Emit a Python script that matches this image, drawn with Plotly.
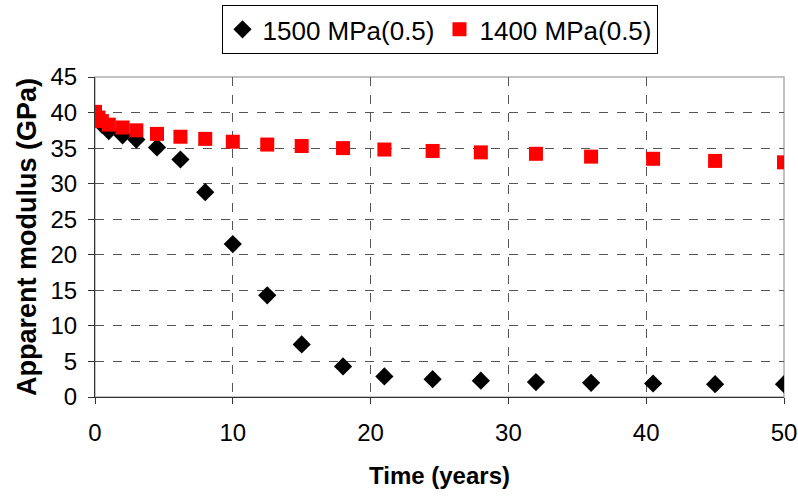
import plotly.graph_objects as go

time_1500 = [0, 0.5, 1, 2, 3, 4.5, 6.2, 8, 10, 12.5, 15, 18, 21, 24.5, 28, 32, 36, 40.5, 45, 50]
mod_1500 = [39.5, 38.3, 37.4, 36.8, 36.2, 35.1, 33.4, 28.8, 21.5, 14.3, 7.4, 4.3, 2.9, 2.5, 2.3, 2.1, 2.0, 1.9, 1.8, 1.8]

time_1400 = [0, 0.25, 0.5, 1, 2, 3, 4.5, 6.2, 8, 10, 12.5, 15, 18, 21, 24.5, 28, 32, 36, 40.5, 45, 50]
mod_1400 = [40.1, 39.3, 38.8, 38.3, 37.9, 37.5, 37.0, 36.6, 36.3, 35.9, 35.5, 35.3, 35.0, 34.8, 34.6, 34.4, 34.2, 33.8, 33.5, 33.2, 33.0]

FONT = "Arial, Liberation Sans, sans-serif"

fig = go.Figure()
fig.add_trace(go.Scatter(x=time_1500, y=mod_1500, mode="markers", name="1500 MPa(0.5)",
                         marker=dict(symbol="diamond", size=14, color="black")))
fig.add_trace(go.Scatter(x=time_1400, y=mod_1400, mode="markers", name="1400 MPa(0.5)",
                         marker=dict(symbol="square", size=14, color="#ff0000")))

fig.add_shape(type="rect", xref="paper", yref="paper", x0=0, x1=1, y0=0, y1=1,
              line=dict(color="#b0b0b0", width=1.5), layer="below")

fig.update_layout(
    width=798, height=497,
    margin=dict(l=95, r=14, t=77, b=100),
    paper_bgcolor="white", plot_bgcolor="white",
    font=dict(family=FONT, color="black", size=24),
    legend=dict(orientation="h", x=0.5, xanchor="center", yref="container", y=0.99, yanchor="top",
                bordercolor="black", borderwidth=1, font=dict(size=26),
                itemwidth=30, tracegroupgap=0),
    xaxis=dict(range=[0, 50], dtick=10, showgrid=True, gridcolor="#555555",
               griddash="dash", gridwidth=1, showline=True, linecolor="#333333", linewidth=1,
               ticks="outside", ticklen=6, tickcolor="#333333", zeroline=False,
               ticklabelstandoff=8, automargin=False, tickfont=dict(size=24),
               title=dict(text="<b>Time (years)</b>", font=dict(size=24), standoff=22)),
    yaxis=dict(range=[0, 45], dtick=5, showgrid=True, gridcolor="#555555",
               griddash="dash", gridwidth=1, showline=True, linecolor="#333333", linewidth=1,
               ticks="outside", ticklen=6, tickcolor="#333333", zeroline=False,
               ticklabelstandoff=6, automargin=False, tickfont=dict(size=24),
               title=dict(text="<b>Apparent modulus (GPa)</b>", font=dict(size=27), standoff=6)),
)

fig.write_html("out.html", config={"displayModeBar": False},
               post_script="document.body.style.margin='0';document.body.style.overflow='hidden';")
